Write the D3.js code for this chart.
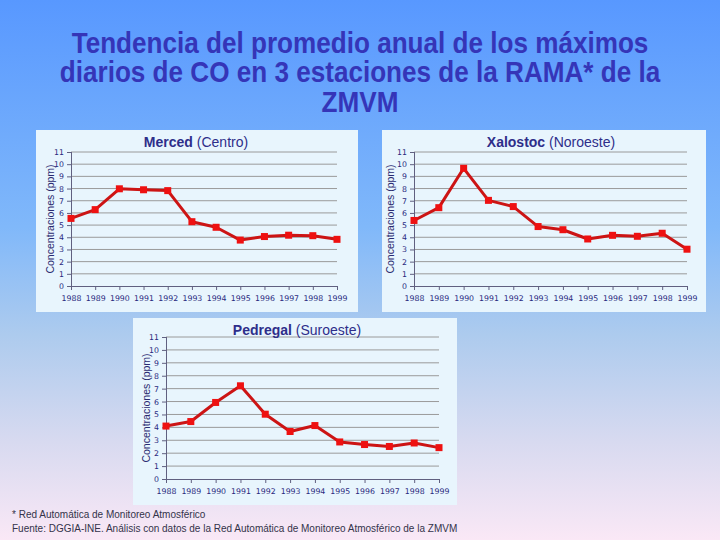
<!DOCTYPE html>
<html><head><meta charset="utf-8">
<script src="https://cdn.jsdelivr.net/npm/d3@7"></script>
<style>body{margin:0;padding:0;overflow:hidden}svg{display:block}</style>
</head><body>
<svg id="c" width="720" height="540"></svg>
<script>
const years = ["1988","1989","1990","1991","1992","1993","1994","1995","1996","1997","1998","1999"];
const yTicks = [0,1,2,3,4,5,6,7,8,9,10,11];
const merced = [5.55,6.27,7.98,7.9,7.83,5.28,4.82,3.77,4.06,4.17,4.13,3.83];
const xalostoc = [5.38,6.43,9.66,7.03,6.52,4.88,4.62,3.86,4.16,4.08,4.33,3.02];
const pedregal = [4.1,4.45,5.93,7.22,5.02,3.68,4.14,2.87,2.67,2.52,2.79,2.43];
const titleLines = ["Tendencia del promedio anual de los máximos","diarios de CO en 3 estaciones de la RAMA* de la","ZMVM"];
const footLines = ["* Red Automática de Monitoreo Atmosférico","Fuente: DGGIA-INE. Análisis con datos de la Red Automática de Monitoreo Atmosférico de la ZMVM"];
const panels = [
  {bold:"Merced", rest:" (Centro)", data:merced, box:[36,130,322,182], plot:[71,337,286,152], tx:196, lx:50},
  {bold:"Xalostoc", rest:" (Noroeste)", data:xalostoc, box:[382,130,324,182], plot:[414,687,286,152], tx:551, lx:390},
  {bold:"Pedregal", rest:" (Suroeste)", data:pedregal, box:[133,318,324,187], plot:[166,439,479,337], tx:297, lx:146}
];

const svg = d3.select("#c");
const defs = svg.append("defs");
const g = defs.append("linearGradient").attr("id","bg").attr("x1",0).attr("y1",0).attr("x2",0).attr("y2",1);
[[0,"#5898ff"],[0.42,"#80b8fa"],[0.62,"#adcbee"],[0.82,"#d8daf0"],[1,"#fae8f6"]].forEach(s=>g.append("stop").attr("offset",s[0]).attr("stop-color",s[1]));
svg.append("rect").attr("width",720).attr("height",540).attr("fill","url(#bg)");

const tg = svg.append("g");
const tt = tg.selectAll("text").data(titleLines).join("text")
  .attr("x",0).attr("y",(d,i)=>53+i*29.5).attr("text-anchor","middle")
  .attr("font-family","'Liberation Sans Narrow','Arial Narrow','Liberation Sans',Arial,sans-serif").attr("font-weight","bold")
  .attr("font-size",29).attr("fill","#3535b8").text(d=>d);
const w1 = tt.nodes()[0].getComputedTextLength();
const sx = 577 / w1;
tg.attr("transform",`translate(360,0) scale(${sx},1)`);

panels.forEach(p=>{
  const [bx,by,bw,bh]=p.box;
  const [x0,x1,y0,y1]=p.plot;
  const pg = svg.append("g");
  pg.append("rect").attr("x",bx).attr("y",by).attr("width",bw).attr("height",bh).attr("fill","#e8f5fd");
  const x = d3.scalePoint().domain(years).range([x0,x1]);
  const y = d3.scaleLinear().domain([0,11]).range([y0,y1]);
  pg.append("g").selectAll("line").data(yTicks.slice(1)).join("line")
    .attr("x1",x0).attr("x2",x1).attr("y1",d=>y(d)).attr("y2",d=>y(d))
    .attr("stroke","#9a9a9a").attr("stroke-width",1);
  const ya = pg.append("g").attr("transform",`translate(${x0},0)`)
    .call(d3.axisLeft(y).tickValues(yTicks).tickSize(4).tickFormat(d3.format("d")));
  const xa = pg.append("g").attr("transform",`translate(0,${y0})`)
    .call(d3.axisBottom(x).tickSize(4).tickPadding(5));
  [ya,xa].forEach(a=>{
    a.select(".domain").attr("stroke","#606080");
    a.selectAll(".tick line").attr("stroke","#606080");
    a.selectAll("text").attr("font-family","Verdana,'DejaVu Sans',sans-serif").attr("font-size",7.8).attr("fill","#2a2a80");
  });
  xa.select(".domain").attr("d",`M${x0},0.5H${x1}`);
  ya.select(".domain").attr("d",`M0.5,${y0}V${y1}`);
  pg.append("text").attr("transform",`translate(${p.lx+4},${(y0+y1)/2}) rotate(-90)`)
    .attr("text-anchor","middle").attr("font-family","Arial,'Liberation Sans',sans-serif")
    .attr("font-size",10.5).attr("fill","#2a2a70").text("Concentraciones (ppm)");
  const t = pg.append("text").attr("x",p.tx).attr("y",by+17).attr("text-anchor","middle")
    .attr("font-family","Arial,'Liberation Sans',sans-serif").attr("font-size",14).attr("fill","#2e2e8a");
  t.append("tspan").attr("font-weight","bold").text(p.bold);
  t.append("tspan").text(p.rest);
  pg.append("path").datum(p.data)
    .attr("d",d3.line().x((d,i)=>x(years[i])).y(d=>y(d)))
    .attr("fill","none").attr("stroke","#cc1414").attr("stroke-width",3).attr("stroke-linejoin","round");
  pg.append("g").selectAll("rect").data(p.data).join("rect")
    .attr("x",(d,i)=>x(years[i])-3.5).attr("y",d=>y(d)-3.5).attr("width",7).attr("height",7)
    .attr("fill","#ee1111");
});

svg.append("g").selectAll("text").data(footLines).join("text")
  .attr("x",12).attr("y",(d,i)=>518+i*13.5)
  .attr("font-family","Arial,'Liberation Sans',sans-serif").attr("font-size",10)
  .attr("fill","#33334a").text(d=>d);
</script>
</body></html>
